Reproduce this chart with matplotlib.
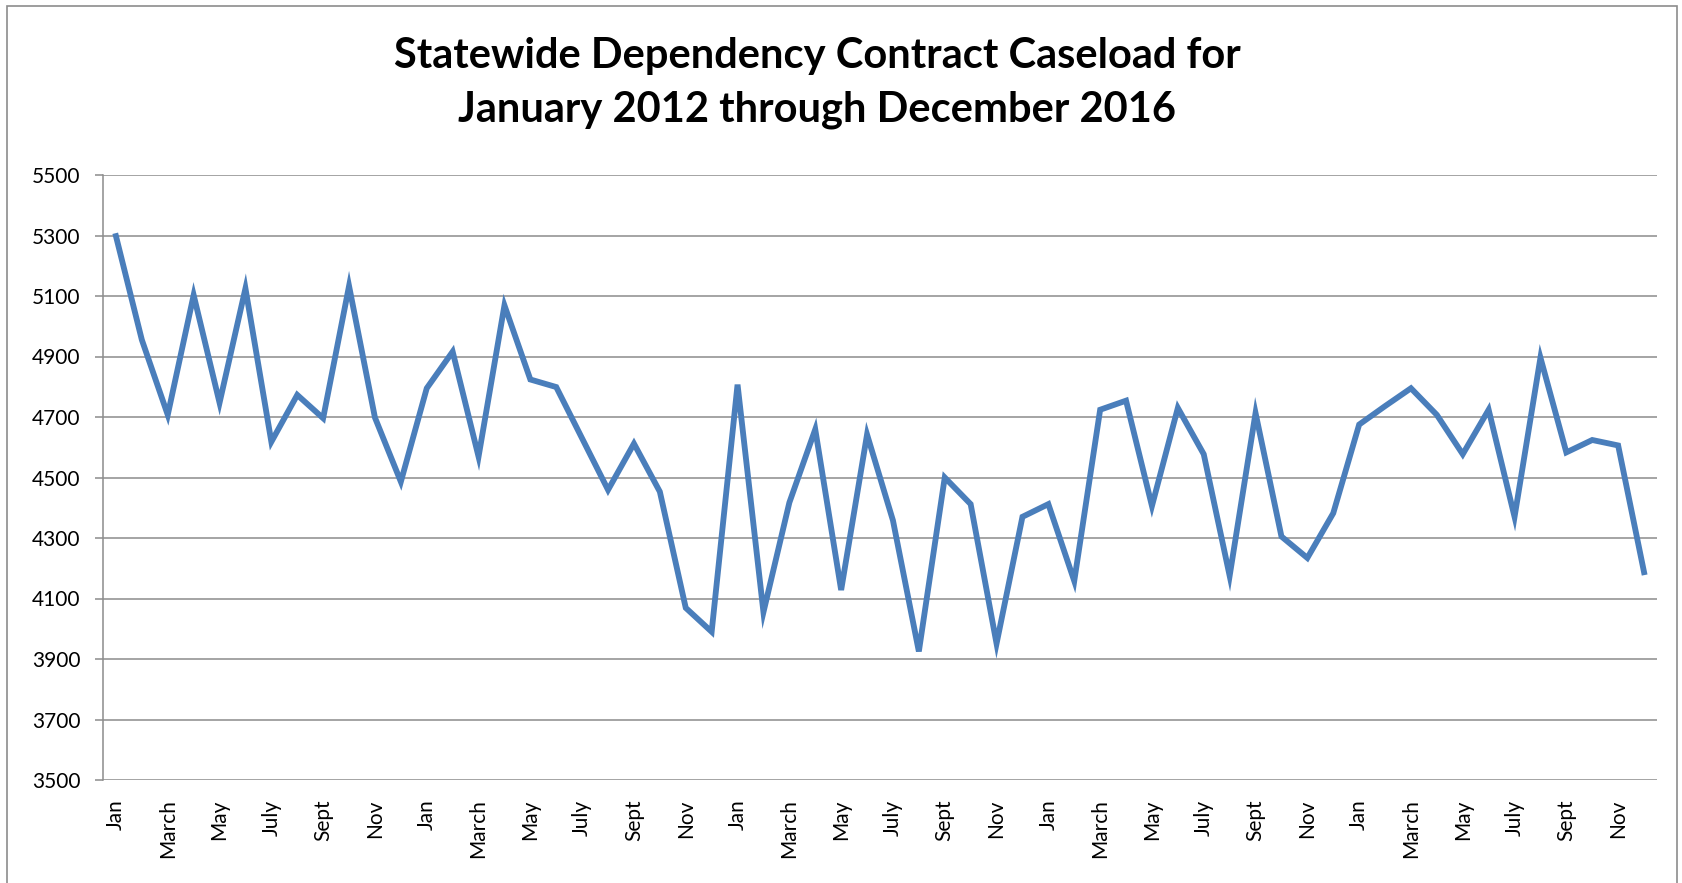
import matplotlib.pyplot as plt
import matplotlib.patches as mpatches
import numpy as np

plt.rcParams.update({
    "font.family": ["Lato", "DejaVu Sans"],
    "font.size": 15,
})

# ── Data ──────────────────────────────────────────────────────────────────────
month_labels = ["Jan", "Feb", "March", "April", "May", "June",
                "July", "Aug", "Sept", "Oct", "Nov", "Dec"]
years = [2012, 2013, 2014, 2015, 2016]

caseload = [
    # 2012
    5298, 4955, 4707, 5103, 4747, 5125, 4618, 4773, 4696, 5133, 4698, 4486,
    # 2013
    4795, 4916, 4569, 5069, 4824, 4799, 4629, 4459, 4612, 4453, 4069, 3990,
    # 2014
    4807, 4055, 4417, 4659, 4128, 4642, 4358, 3925, 4500, 4412, 3951, 4370,
    # 2015
    4412, 4158, 4724, 4754, 4406, 4730, 4577, 4175, 4713, 4305, 4234, 4382,
    # 2016
    4675, 4736, 4795, 4707, 4577, 4724, 4370, 4896, 4583, 4624, 4606, 4187,
]

y_ticks = [3500, 3700, 3900, 4100, 4300, 4500, 4700, 4900, 5100, 5300, 5500]

# ── Plot ──────────────────────────────────────────────────────────────────────
fig = plt.figure(figsize=(16.83, 8.83), dpi=100)
ax = fig.add_axes([103 / 1683, 1 - 780 / 883, (1657 - 103) / 1683, 605 / 883])

n = len(caseload)
x = np.arange(n)
ax.plot(x, caseload, color="#4A7EBB", linewidth=4.2, solid_joinstyle="miter",
        zorder=3)

ax.set_xlim(-0.5, n - 0.5)
ax.set_ylim(3500, 5500)
ax.set_yticks(y_ticks)
ax.set_yticklabels([str(v) for v in y_ticks])

labels = [month_labels[i % 12] for i in range(n)]
ax.set_xticks(x[::2])
ax.set_xticklabels(labels[::2], rotation=90, va="top", ha="center")

ax.grid(axis="y", color="#8c8c8c", linewidth=1.1)
ax.set_axisbelow(True)
for side in ["top", "right", "bottom"]:
    ax.spines[side].set_visible(False)
ax.spines["left"].set_color("#8c8c8c")
ax.spines["left"].set_linewidth(1.1)
ax.tick_params(axis="y", length=6, width=1.1, color="#8c8c8c", pad=10)
ax.tick_params(axis="x", length=0, pad=14)

fig.text(817 / 1683, 1 - 83 / 883,
         "Statewide Dependency Contract Caseload for\n"
         "January 2012 through December 2016",
         ha="center", va="center", fontsize=30, fontweight="bold",
         linespacing=1.5)

# chart frame
fig.patches.append(mpatches.Rectangle((7 / 1683, -0.05), (1677 - 7) / 1683,
                                      1.05 - 6 / 883, transform=fig.transFigure,
                                      fill=False, edgecolor="#8c8c8c",
                                      linewidth=1.2))

fig.savefig("out.png", dpi=100)
